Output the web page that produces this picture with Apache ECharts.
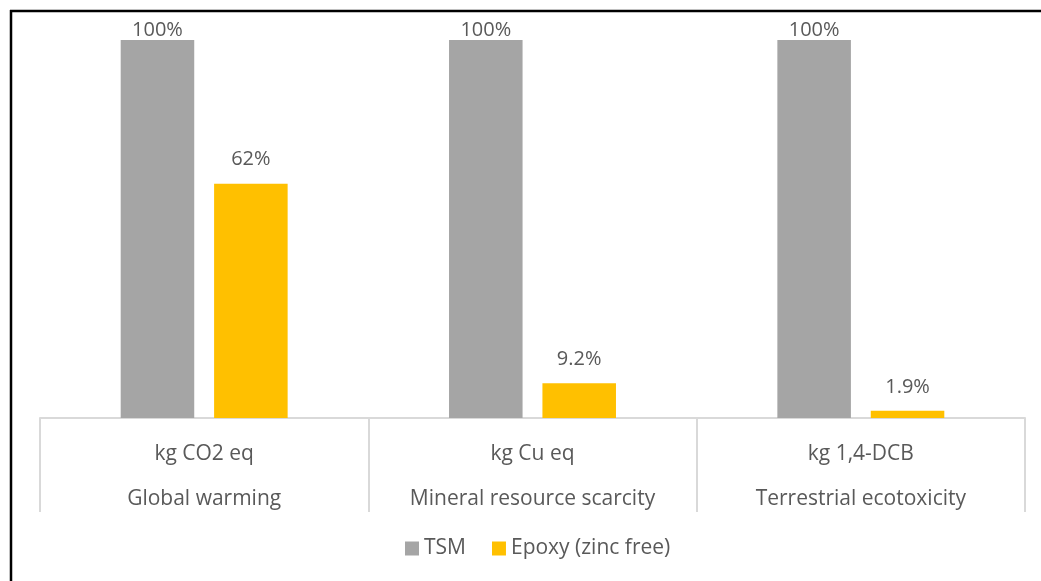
<!DOCTYPE html>
<html>
<head>
<meta charset="utf-8">
<script src="https://cdn.jsdelivr.net/npm/echarts@6/dist/echarts.min.js"></script>
<style>
  html, body { margin: 0; padding: 0; background: #fff; }
  #chart { width: 1041px; height: 581px; }
</style>
</head>
<body>
<div id="chart"></div>
<script>
// impact categories (unit on first line, name on second)
var units = ['kg CO2 eq', 'kg Cu eq', 'kg 1,4-DCB'];
var categories = ['Global warming', 'Mineral resource scarcity', 'Terrestrial ecotoxicity'];

// relative impact, %
var tsmValues = [100, 100, 100];
var epoxyValues = [62, 9.2, 1.9];

var textColor = '#595959';
var fontFamily = '"Open Sans", "Noto Sans", sans-serif';

var chart = echarts.init(document.getElementById('chart'));

function barData(values) {
  return values.map(function (v) {
    // labels of full-height bars sit tight against the plot top
    return v >= 100 ? { value: v, label: { distance: 0 } } : v;
  });
}

var labelStyle = {
  show: true,
  position: 'top',
  distance: 14,
  color: textColor,
  fontSize: 20,
  fontFamily: fontFamily,
  formatter: function (p) { return p.value + '%'; }
};

var option = {
  animation: false,
  backgroundColor: '#fff',
  grid: { left: 40, right: 16, top: 40, bottom: 163 },
  legend: {
    bottom: 17,
    left: 400,
    itemWidth: 14,
    itemHeight: 14,
    itemGap: 26,
    icon: 'rect',
    textStyle: { color: textColor, fontSize: 21, fontFamily: fontFamily },
    data: ['TSM', 'Epoxy (zinc free)']
  },
  xAxis: {
    type: 'category',
    data: categories.map(function (c, i) { return units[i] + '\n' + c; }),
    axisLine: { lineStyle: { color: '#D9D9D9', width: 2 } },
    axisTick: { show: true, interval: 0, length: 94, lineStyle: { color: '#D9D9D9', width: 2 } },
    axisLabel: {
      interval: 0,
      margin: 14,
      lineHeight: 45,
      color: textColor,
      fontSize: 21,
      fontFamily: fontFamily
    }
  },
  yAxis: {
    type: 'value',
    min: 0,
    max: 100,
    show: false,
    splitLine: { show: false }
  },
  series: [
    {
      name: 'TSM',
      type: 'bar',
      barWidth: '22.4%',
      barGap: '27%',
      itemStyle: { color: '#A5A5A5' },
      label: labelStyle,
      data: barData(tsmValues)
    },
    {
      name: 'Epoxy (zinc free)',
      type: 'bar',
      barWidth: '22.4%',
      itemStyle: { color: '#FFC000' },
      label: labelStyle,
      data: barData(epoxyValues)
    }
  ],
  graphic: [
    { type: 'line', shape: { x1: 10, y1: 11, x2: 1041, y2: 11 }, style: { stroke: '#000', lineWidth: 2.5 } },
    { type: 'line', shape: { x1: 11, y1: 10, x2: 11, y2: 581 }, style: { stroke: '#000', lineWidth: 2.5 } }
  ]
};

chart.setOption(option);
</script>
</body>
</html>
